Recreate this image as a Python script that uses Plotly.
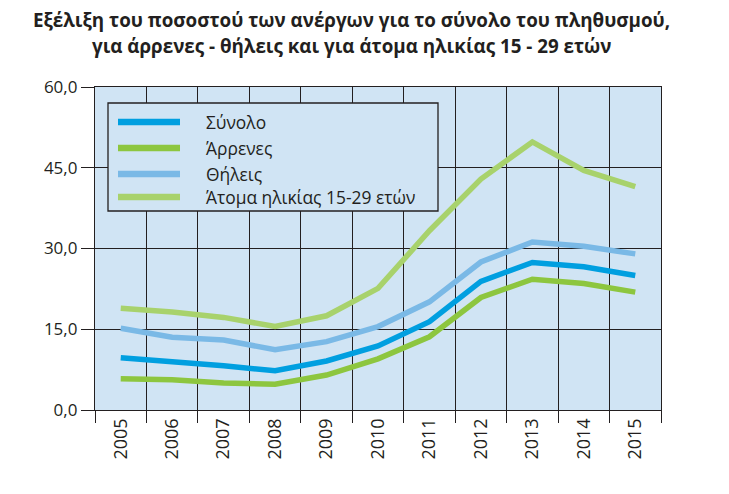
import plotly.graph_objects as go

years = ["2005", "2006", "2007", "2008", "2009", "2010", "2011", "2012", "2013", "2014", "2015"]
synolo = [9.7, 9.0, 8.2, 7.3, 9.1, 11.9, 16.4, 23.9, 27.4, 26.6, 25.0]
arrenes = [5.8, 5.6, 5.0, 4.8, 6.5, 9.5, 13.6, 20.9, 24.3, 23.5, 21.9]
thileis = [15.2, 13.5, 13.0, 11.2, 12.7, 15.5, 20.1, 27.5, 31.2, 30.4, 29.0]
atoma = [18.9, 18.2, 17.2, 15.5, 17.5, 22.6, 33.3, 42.9, 49.8, 44.5, 41.5]

series_names = ["Σύνολο", "Άρρενες", "Θήλεις", "Άτομα ηλικίας 15-29 ετών"]
series_values = [synolo, arrenes, thileis, atoma]
series_colors = ["#009fe0", "#8dc63f", "#7ab9e6", "#a8d26c"]

title_lines = ["Εξέλιξη του ποσοστού των ανέργων για το σύνολο του πληθυσμού,",
               "για άρρενες - θήλεις και για άτομα ηλικίας 15 - 29 ετών"]

OFF = 8  # page body margin
W, H = 729 - OFF, 494 - OFF
L, R, T, B = 95, 661, 87, 410  # page pixel coords of plot area
BG = "#d0e4f4"
INK = "#231f20"

fig = go.Figure()
for name, vals, col in zip(series_names, series_values, series_colors):
    fig.add_trace(go.Scatter(x=years, y=vals, name=name, mode="lines",
                             line=dict(color=col, width=5.5), showlegend=False))

def px_x(p):
    return (p - L) / (R - L)

def px_y(p):
    return (B - p) / (B - T)

shapes = []
annotations = []
shapes.append(dict(type="rect", xref="paper", yref="paper", layer="above",
                   x0=px_x(108), x1=px_x(438), y0=px_y(211), y1=px_y(103),
                   fillcolor=BG, line=dict(color=INK, width=1.3)))
leg_y = [122, 148, 174, 197]
for name, col, yy in zip(series_names, series_colors, leg_y):
    shapes.append(dict(type="line", xref="paper", yref="paper", layer="above",
                       x0=px_x(118), x1=px_x(180), y0=px_y(yy), y1=px_y(yy),
                       line=dict(color=col, width=6.5)))
    annotations.append(dict(text=name, xref="paper", yref="paper",
                            x=px_x(204), y=px_y(yy), xanchor="left", yanchor="middle",
                            showarrow=False, font=dict(family="Open Sans", size=17.4, color=INK)))

for i, line in enumerate(title_lines):
    annotations.append(dict(text="<b>" + line + "</b>", xref="paper", yref="paper",
                            x=px_x(351), y=px_y([20, 46][i]), xanchor="center", yanchor="middle",
                            showarrow=False, font=dict(family="Open Sans", size=18.8, color=INK)))

fig.update_layout(
    width=W, height=H,
    margin=dict(l=L - OFF, r=W - (R - OFF), t=T - OFF, b=H - (B - OFF), pad=0),
    paper_bgcolor="white", plot_bgcolor=BG,
    separators=",.",
    font=dict(family="Open Sans", size=16, color=INK),
    shapes=shapes, annotations=annotations,
    xaxis=dict(type="category", tickson="boundaries", ticks="outside", ticklen=12,
               range=[-0.5, len(years) - 0.5],
               tickwidth=1.3, tickcolor=INK, tickangle=-90,
               showgrid=True, gridcolor=INK, gridwidth=1.3,
               showline=True, mirror=True, linecolor=INK, linewidth=1.3,
               tickfont=dict(family="Open Sans", size=18, color=INK)),
    yaxis=dict(range=[0, 60], dtick=15, tick0=0, tickformat=".1f", ticks="outside",
               ticklen=13, tickwidth=1.3, tickcolor=INK,
               showgrid=True, gridcolor=INK, gridwidth=1.3, zeroline=False,
               showline=True, mirror=True, linecolor=INK, linewidth=1.3,
               tickfont=dict(family="Open Sans", size=17, color=INK)),
)

fig.write_html("out.html")
